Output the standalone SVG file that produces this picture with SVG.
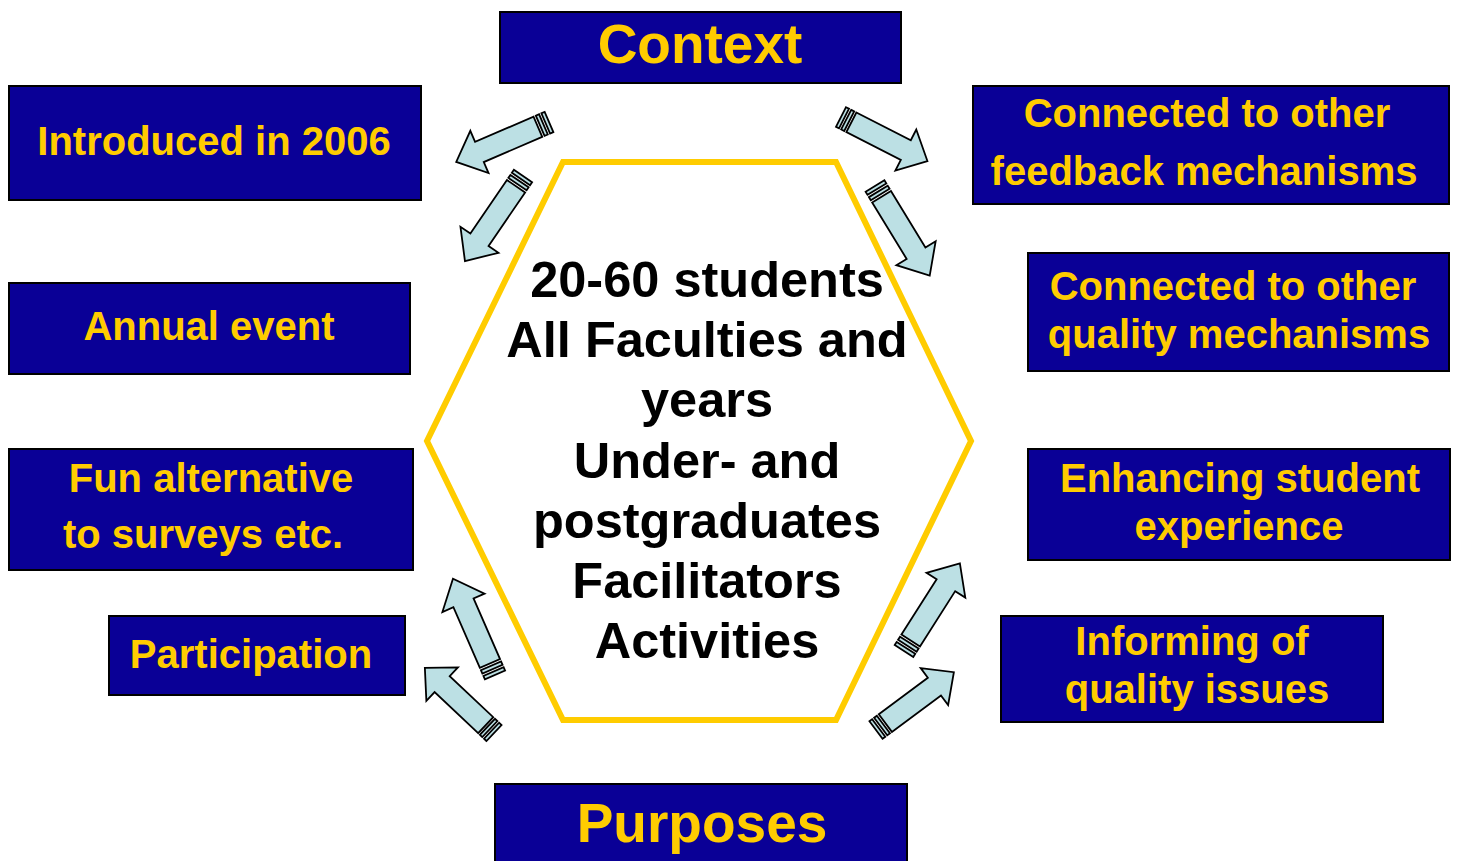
<svg xmlns="http://www.w3.org/2000/svg" xmlns:xlink="http://www.w3.org/1999/xlink" width="1459" height="861" viewBox="0 0 1459 861">
<style>
.box{fill:#0A0096;stroke:#000;stroke-width:2}
.lbl{font-family:"Liberation Sans",Arial,sans-serif;font-weight:bold;fill:#FFCC00;text-anchor:middle;font-size:40px}
.big{font-size:55px}
.ctr{font-family:"Liberation Sans",Arial,sans-serif;font-weight:bold;fill:#000;text-anchor:middle;font-size:50.5px}
.hex{fill:#fff;stroke:#FFCC00;stroke-width:6}
.arr{fill:#BCE0E4;stroke:#000;stroke-width:1.8;vector-effect:non-scaling-stroke;stroke-linejoin:miter}
</style>
<defs>
<g id="sa">
<rect class="arr" x="0" y="-11" width="3.5" height="22"/>
<rect class="arr" x="6" y="-11" width="3.5" height="22"/>
<path class="arr" d="M12,-11 H75 V-23 L100,0 L75,23 V11 H12 Z"/>
</g>
</defs>
<rect width="1459" height="861" fill="#fff"/>
<g id="hexagon">
<polygon class="hex" points="563,162 836,162 971,441 836,720 563,720 427,441"/>
<text class="ctr" x="707" y="297">20-60 students</text>
<text class="ctr" x="707" y="357">All Faculties and</text>
<text class="ctr" x="707" y="417">years</text>
<text class="ctr" x="707" y="478">Under- and</text>
<text class="ctr" x="707" y="538">postgraduates</text>
<text class="ctr" x="707" y="598">Facilitators</text>
<text class="ctr" x="707" y="658">Activities</text>
</g>
<g id="connectors">
<use xlink:href="#sa" transform="translate(549,122) rotate(156.7) scale(1.01,1)"/>
<use xlink:href="#sa" transform="translate(523,176) rotate(124.3) scale(1.03,1)"/>
<use xlink:href="#sa" transform="translate(841,117) rotate(27) scale(0.97,1)"/>
<use xlink:href="#sa" transform="translate(875,186) rotate(58.6) scale(1.05,1)"/>
<use xlink:href="#sa" transform="translate(495,675) rotate(-113.6) scale(1.05,1)"/>
<use xlink:href="#sa" transform="translate(494,733) rotate(-136.7) scale(0.95,1)"/>
<use xlink:href="#sa" transform="translate(904,651) rotate(-57.5) scale(1.04,1)"/>
<use xlink:href="#sa" transform="translate(876,730) rotate(-36.6) scale(0.97,1)"/>
</g>
<g id="context">
<rect class="box" x="500" y="12" width="401" height="71"/>
<text class="lbl big" x="700" y="63">Context</text>
</g>
<g id="purposes">
<rect class="box" x="495" y="784" width="412" height="90"/>
<text class="lbl big" x="702" y="842">Purposes</text>
</g>
<g id="introduced">
<rect class="box" x="9" y="86" width="412" height="114"/>
<text class="lbl" x="214" y="155">Introduced in 2006</text>
</g>
<g id="annual">
<rect class="box" x="9" y="283" width="401" height="91"/>
<text class="lbl" x="209" y="340">Annual event</text>
</g>
<g id="fun">
<rect class="box" x="9" y="449" width="404" height="121"/>
<text class="lbl" x="211" y="492">Fun alternative</text>
<text class="lbl" x="203" y="548">to surveys etc.</text>
</g>
<g id="participation">
<rect class="box" x="109" y="616" width="296" height="79"/>
<text class="lbl" x="251" y="668">Participation</text>
</g>
<g id="feedback">
<rect class="box" x="973" y="86" width="476" height="118"/>
<text class="lbl" x="1207" y="127">Connected to other</text>
<text class="lbl" x="1204" y="185">feedback mechanisms</text>
</g>
<g id="quality">
<rect class="box" x="1028" y="253" width="421" height="118"/>
<text class="lbl" x="1233" y="300">Connected to other</text>
<text class="lbl" x="1239" y="348">quality mechanisms</text>
</g>
<g id="enhancing">
<rect class="box" x="1028" y="449" width="422" height="111"/>
<text class="lbl" x="1240" y="492">Enhancing student</text>
<text class="lbl" x="1239" y="540">experience</text>
</g>
<g id="informing">
<rect class="box" x="1001" y="616" width="382" height="106"/>
<text class="lbl" x="1192" y="655">Informing of</text>
<text class="lbl" x="1197" y="703">quality issues</text>
</g>
</svg>
